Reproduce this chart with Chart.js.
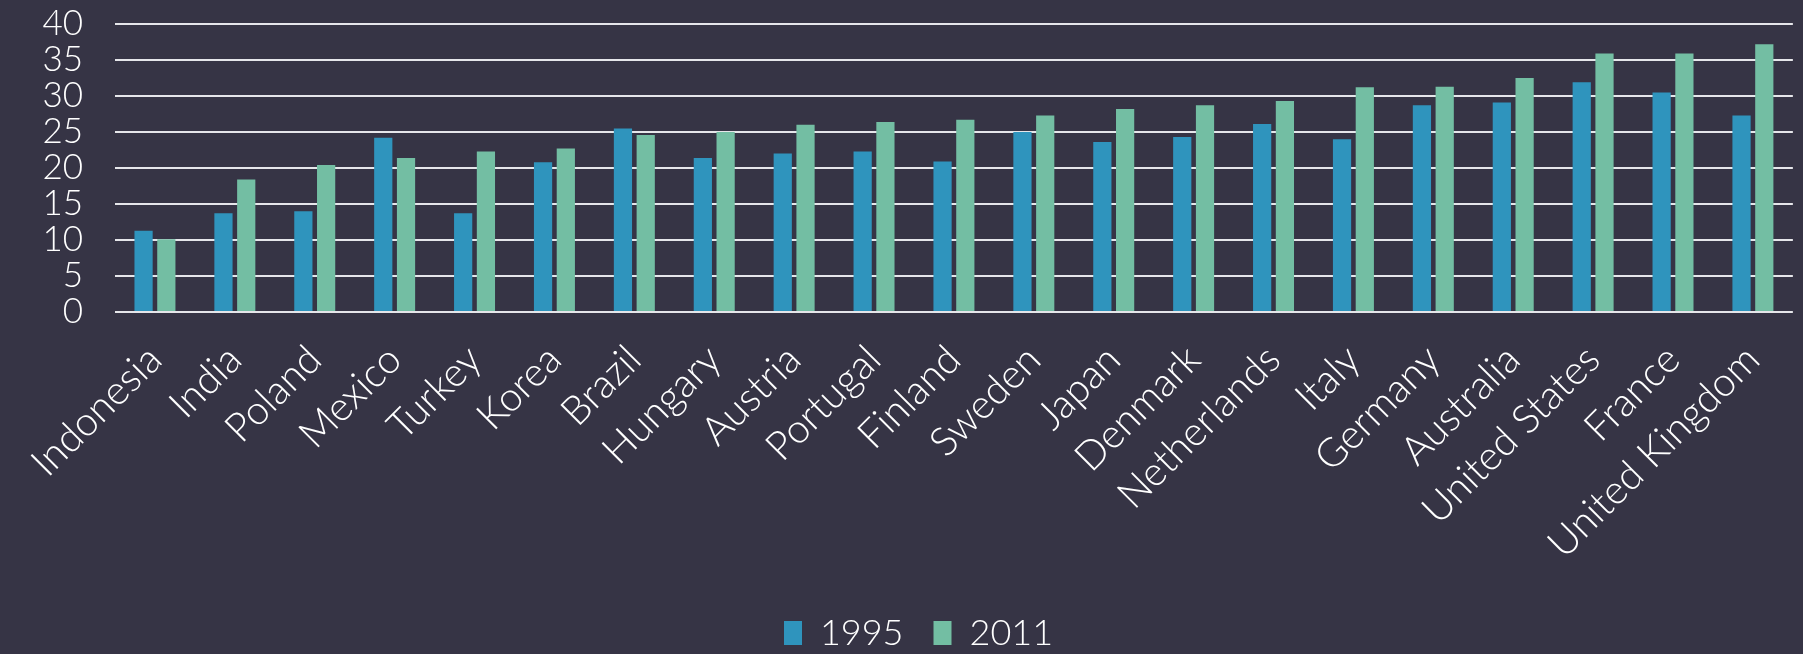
<!DOCTYPE html>
<html>
<head>
<meta charset="utf-8">
<script src="https://cdn.jsdelivr.net/npm/chart.js@4.4.1/dist/chart.umd.min.js"></script>
<style>
  html, body { margin: 0; padding: 0; background: #363445; }
  #wrap { width: 1803px; height: 654px; }
</style>
</head>
<body>
<div id="wrap"><canvas id="chart"></canvas></div>
<script>
const countries = ['Indonesia', 'India', 'Poland', 'Mexico', 'Turkey', 'Korea', 'Brazil', 'Hungary',
  'Austria', 'Portugal', 'Finland', 'Sweden', 'Japan', 'Denmark', 'Netherlands', 'Italy',
  'Germany', 'Australia', 'United States', 'France', 'United Kingdom'];
const values1995 = [11.3, 13.7, 14.0, 24.2, 13.7, 20.8, 25.5, 21.4, 22.0, 22.3, 20.9, 25.0,
  23.6, 24.3, 26.1, 24.0, 28.7, 29.1, 31.9, 30.5, 27.3];
const values2011 = [10.1, 18.4, 20.4, 21.4, 22.3, 22.7, 24.6, 25.0, 26.0, 26.4, 26.7, 27.3,
  28.2, 28.7, 29.3, 31.2, 31.3, 32.5, 35.9, 35.9, 37.2];
const yTicks = [0, 5, 10, 15, 20, 25, 30, 35, 40];

const fontFamily = 'Lato, "Open Sans", sans-serif';

// nudge the legend a bit right, like the original
const legendShift = {
  id: 'legendShift',
  afterLayout(chart) {
    if (chart.legend) {
      chart.legend.left += 20;
      chart.legend.right += 20;
    }
  },
};

document.addEventListener('DOMContentLoaded', () => {
  const ctx = document.getElementById('chart').getContext('2d');
  new Chart(ctx, {
    type: 'bar',
    data: {
      labels: countries,
      datasets: [
        { label: '1995', data: values1995, backgroundColor: '#2f94bd' },
        { label: '2011', data: values2011, backgroundColor: '#73bea3' },
      ],
    },
    plugins: [legendShift],
    options: {
      responsive: true,
      maintainAspectRatio: false,
      animation: false,
      categoryPercentage: 0.57,
      barPercentage: 0.8,
      layout: { padding: { top: 24, right: 6, left: 0, bottom: -7 } },
      plugins: {
        legend: {
          position: 'bottom',
          labels: {
            color: '#ffffff',
            font: { family: fontFamily, size: 36, weight: 300 },
            boxWidth: 18,
            boxHeight: 24,
            padding: 30,
          },
        },
        tooltip: { enabled: false },
      },
      scales: {
        x: {
          grid: { display: false },
          border: { display: false },
          ticks: {
            color: '#ffffff',
            font: { family: fontFamily, size: 40, weight: 300 },
            minRotation: 45,
            maxRotation: 45,
            autoSkip: false,
            padding: 16,
          },
          afterFit: (scale) => { scale.height = 273; },
        },
        y: {
          min: 0,
          max: 40,
          afterBuildTicks: (scale) => { scale.ticks = yTicks.map(v => ({ value: v })); },
          grid: { color: '#e6e6ea', lineWidth: 2, drawTicks: false },
          border: { display: false },
          ticks: {
            color: '#ffffff',
            font: { family: fontFamily, size: 35, weight: 300 },
            padding: 32,
            autoSkip: false,
          },
          afterFit: (scale) => {
            scale.width = 115;
            scale.paddingTop = 0;
            scale.paddingBottom = 0;
          },
        },
      },
    },
  });
});
</script>
</body>
</html>
